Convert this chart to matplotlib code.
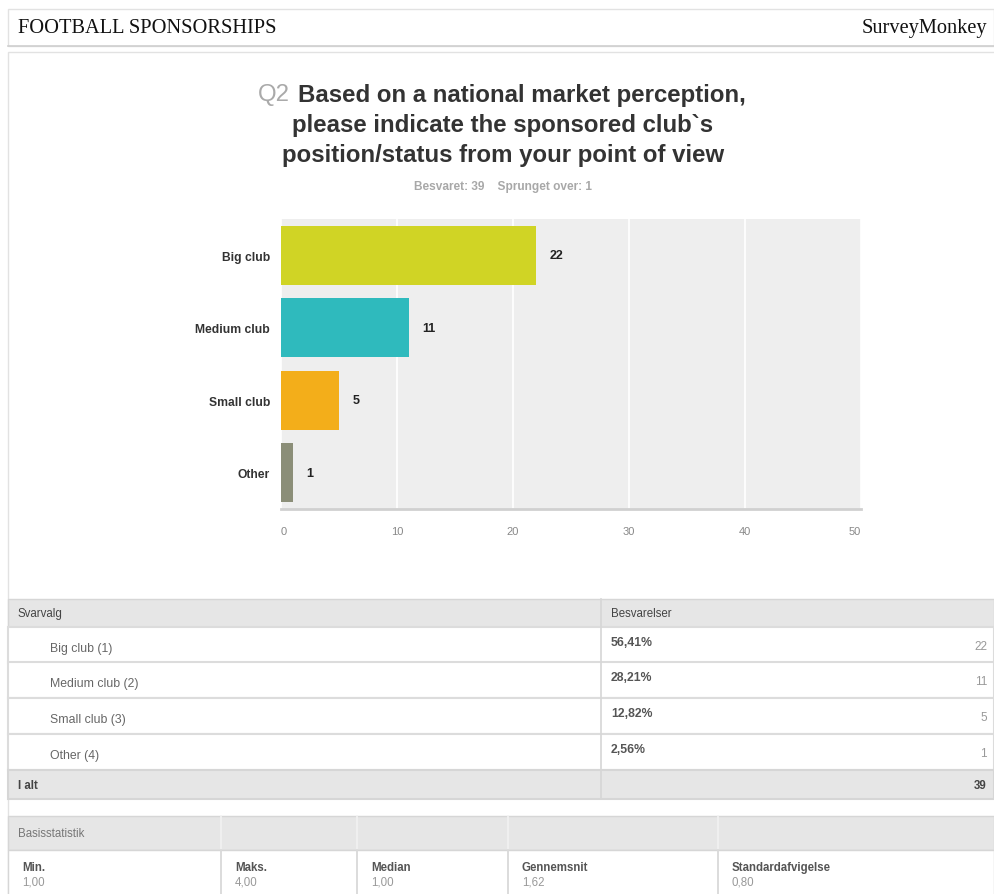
import numpy as np
import matplotlib
matplotlib.use("Agg")
import matplotlib.pyplot as plt
from matplotlib.patches import Rectangle

plt.rcParams["font.family"] = ["Liberation Sans", "DejaVu Sans"]

# survey results
categories = ["Big club", "Medium club", "Small club", "Other"]
counts = [22, 11, 5, 1]
colors = ["#d0d425", "#2fbabd", "#f3ae1a", "#8b8e78"]
answered = 39
skipped = 1
xticks = [0, 10, 20, 30, 40, 50]
stat_names = ["Min.", "Maks.", "Median", "Gennemsnit", "Standardafvigelse"]

W, H = 995, 895
fig = plt.figure(figsize=(W / 100, H / 100), dpi=100)
page = fig.add_axes([0, 0, 1, 1])
page.set_xlim(0, W)
page.set_ylim(H, 0)
page.axis("off")

def dk(v, pct=False):
    s = f"{v:.2f}".replace(".", ",")
    return s + "%" if pct else s

def box(x0, y0, x1, y1, fc="white", ec="#dddddd", lw=1.0):
    page.add_patch(Rectangle((x0, y0), x1 - x0, y1 - y0, facecolor=fc,
                             edgecolor=ec, linewidth=lw))

# page header
box(8, 10, 994, 47, ec="#e2e2e2")
page.plot([8, 994], [47, 47], color="#cfcfcf", lw=1.2)
page.text(18, 28, "FOOTBALL SPONSORSHIPS", family="Liberation Serif",
          fontsize=14.7, color="#111111", va="center")
page.text(987, 28, "SurveyMonkey", family="Liberation Serif",
          fontsize=14.7, color="#111111", va="center", ha="right")

# question panel
box(8, 53, 1000, 900, ec="#e2e2e2")

title_fs = 17.3
page.text(258, 95, "Q2", fontsize=title_fs, color="#aaaaaa", va="center")
page.text(298, 95, "Based on a national market perception,", fontsize=title_fs,
          fontweight="bold", color="#333333", va="center")
page.text(503, 125, "please indicate the sponsored club`s", fontsize=title_fs,
          fontweight="bold", color="#333333", va="center", ha="center")
page.text(503, 155, "position/status from your point of view", fontsize=title_fs,
          fontweight="bold", color="#333333", va="center", ha="center")
page.text(503, 187, f"Besvaret: {answered}    Sprunget over: {skipped}",
          fontsize=8.6, fontweight="bold", color="#a8a8a8", va="center",
          ha="center")

# bar chart
ax = fig.add_axes([281 / W, 1 - 510 / H, 580 / W, 290 / H])
ax.set_facecolor("#eeeeee")
y = np.arange(len(categories))
ax.barh(y, counts, height=0.82, color=colors, zorder=3)
ax.set_ylim(len(categories) - 0.5, -0.5)
ax.set_xlim(0, 50)
ax.set_xticks(xticks)
ax.grid(axis="x", color="white", lw=1.2, zorder=1)
ax.set_axisbelow(True)
for s in ["top", "right", "left"]:
    ax.spines[s].set_visible(False)
ax.spines["bottom"].set_color("#d0d0d0")
ax.spines["bottom"].set_linewidth(2)
ax.tick_params(axis="x", length=0, pad=12, labelsize=8, labelcolor="#888888")
ax.tick_params(axis="y", length=0, pad=8)
xl = ax.get_xticklabels()
xl[0].set_horizontalalignment("left")
xl[-1].set_horizontalalignment("right")
ax.set_yticks(y)
ax.set_yticklabels(categories, fontsize=8.7, fontweight="bold", color="#333333")
for yi, c in zip(y, counts):
    ax.annotate(str(c), (c, yi), xytext=(10, 0), textcoords="offset points",
                va="center", ha="left", fontsize=9, fontweight="bold",
                color="#222222")

# answer table
total = sum(counts)
row_top = [628, 663, 699, 735]
row_h = 36
box(8, 600, 994, 628, fc="#e6e6e6", ec="#d6d6d6")
page.text(18, 614, "Svarvalg", fontsize=8.3, color="#444444", va="center")
page.text(611, 614, "Besvarelser", fontsize=8.3, color="#444444", va="center")
for i, (cat, c) in enumerate(zip(categories, counts)):
    t = row_top[i]
    box(8, t, 994, t + row_h, ec="#dcdcdc", lw=1.5)
    page.text(50, t + 21, f"{cat} ({i + 1})", fontsize=8.8, color="#666666",
              va="center")
    page.text(611, t + 15, dk(100 * c / total, pct=True), fontsize=8.8,
              fontweight="bold", color="#555555", va="center")
    page.text(987, t + 19, str(c), fontsize=8.5, color="#999999",
              va="center", ha="right")
box(8, 771, 994, 800, fc="#e6e6e6", ec="#d6d6d6", lw=1.5)
page.text(18, 786, "I alt", fontsize=8.3, fontweight="bold", color="#444444",
          va="center")
page.text(987, 786, str(total), fontsize=8.3, fontweight="bold",
          color="#444444", va="center", ha="right")
page.plot([601, 601], [600, 800], color="#d6d6d6", lw=1.2)

# basic statistics
values = np.repeat(np.arange(1, len(counts) + 1), counts)
stats = [values.min(), values.max(), np.median(values), values.mean(),
         values.std()]
col_x = [8, 221, 357, 508, 718, 994]
box(8, 817, 994, 851, fc="#e6e6e6", ec="#d6d6d6")
page.text(18, 834, "Basisstatistik", fontsize=8.3, color="#777777",
          va="center")
box(8, 851, 994, 900, ec="#d6d6d6")
for k, (name, v) in enumerate(zip(stat_names, stats)):
    x0 = col_x[k]
    if k > 0:
        page.plot([x0, x0], [817, 851], color="#f2f2f2", lw=1.2)
        page.plot([x0, x0], [851, 900], color="#d6d6d6", lw=1.2)
    page.text(x0 + 14, 868, name, fontsize=8.3, fontweight="bold",
              color="#555555", va="center")
    page.text(x0 + 14, 883, dk(v), fontsize=8.3, color="#999999",
              va="center")

fig.savefig("out.png", dpi=100)
